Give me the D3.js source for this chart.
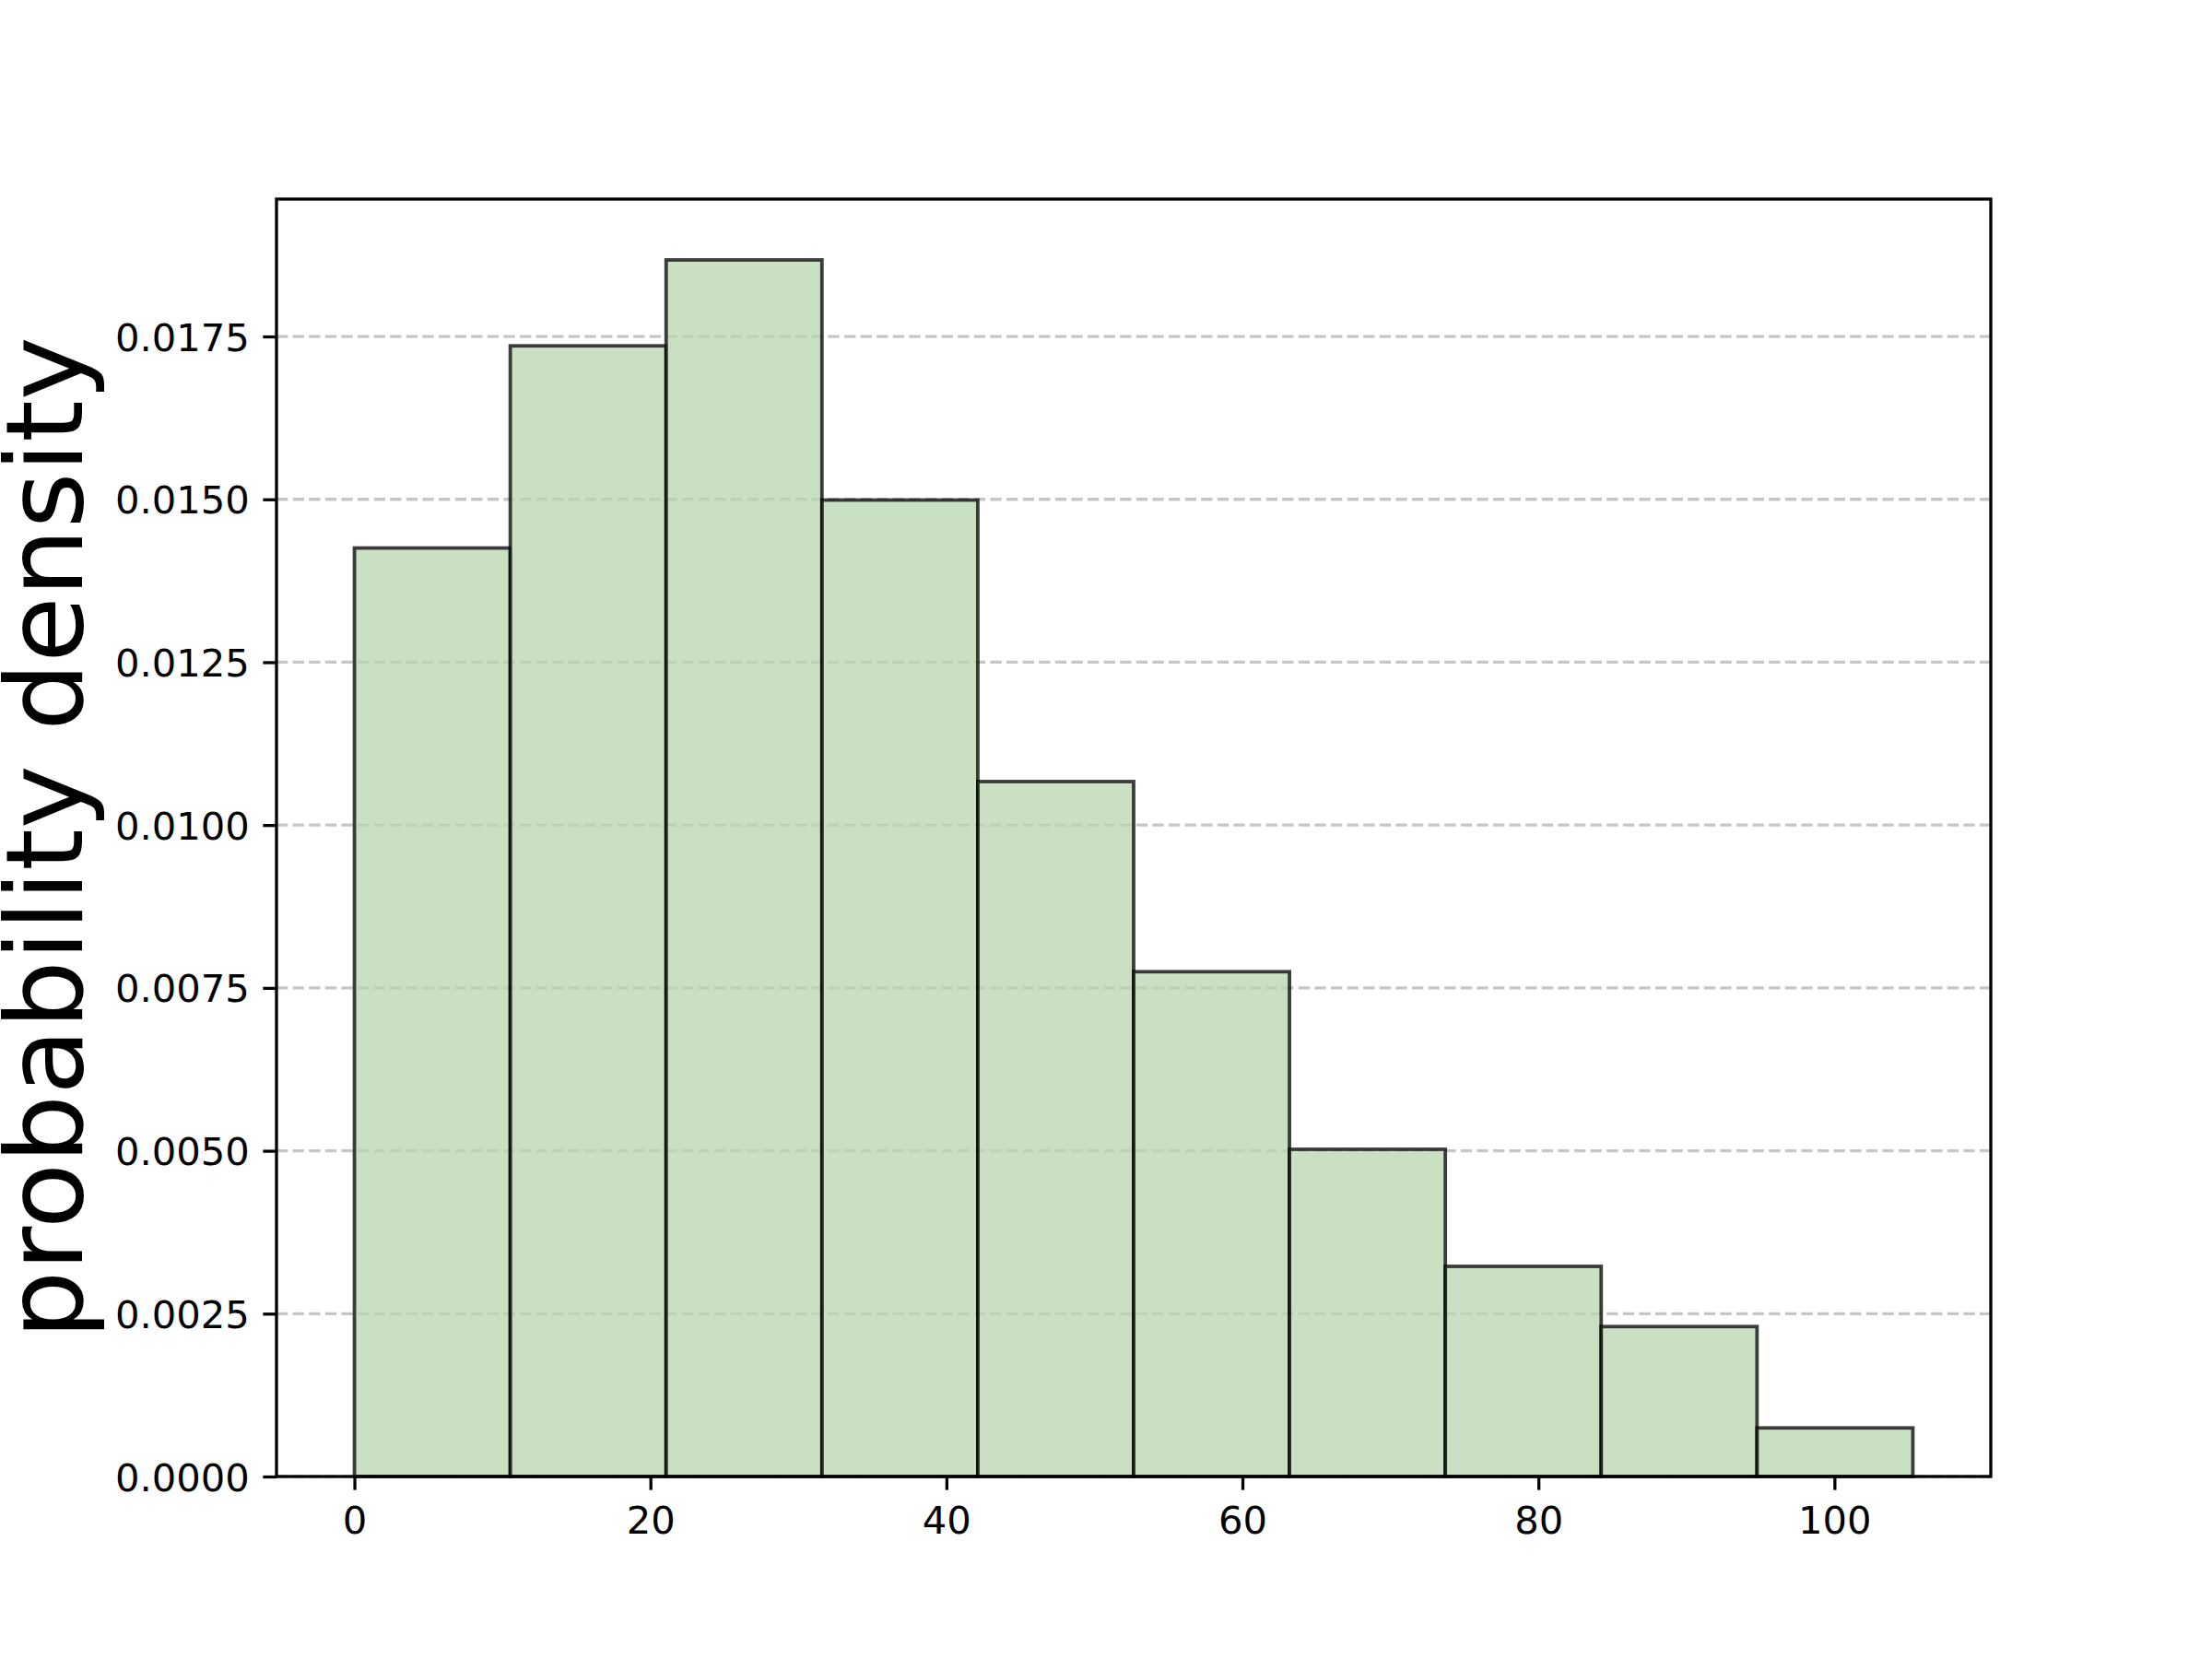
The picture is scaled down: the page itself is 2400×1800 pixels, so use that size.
<!DOCTYPE html>
<html>
<head>
<meta charset="utf-8">
<script src="https://cdn.jsdelivr.net/npm/d3@7"></script>
<style>
  html, body { margin: 0; padding: 0; background: #ffffff; }
  svg { display: block; }
  text { font-family: "DejaVu Sans", sans-serif; fill: #000; }
</style>
</head>
<body>
<script>
// ---- data ----
const binEdges = [0, 10.53, 21.06, 31.59, 42.12, 52.65, 63.18, 73.71, 84.24, 94.77, 105.3];
const densities = [0.014253, 0.017356, 0.018675, 0.014989, 0.010668, 0.007749, 0.005023, 0.003226, 0.002302, 0.000746];
const xTicks = [0, 20, 40, 60, 80, 100];
const yTicks = [0, 0.0025, 0.005, 0.0075, 0.01, 0.0125, 0.015, 0.0175];
const yLabel = "probability density";

// ---- layout ----
const W = 2400, H = 1800;
const plot = { left: 300, right: 2160, top: 216, bottom: 1602 };

const bins = densities.map((d, i) => ({ x0: binEdges[i], x1: binEdges[i + 1], d }));

const xMin = binEdges[0], xMax = binEdges[binEdges.length - 1];
const xPad = (xMax - xMin) * 0.05;
const x = d3.scaleLinear().domain([xMin - xPad, xMax + xPad]).range([plot.left, plot.right]);
const y = d3.scaleLinear().domain([0, d3.max(densities) * 1.05]).range([plot.bottom, plot.top]);

const svg = d3.select("body").append("svg").attr("width", W).attr("height", H);
svg.append("rect").attr("width", W).attr("height", H).attr("fill", "#ffffff");

// grid (behind bars)
svg.append("g").selectAll("line").data(yTicks).join("line")
  .attr("x1", plot.left).attr("x2", plot.right)
  .attr("y1", d => y(d)).attr("y2", d => y(d))
  .attr("stroke", "#c6c6c6").attr("stroke-width", 3.3)
  .attr("stroke-dasharray", "12.3,5.3");

// bars
svg.append("g").selectAll("rect").data(bins).join("rect")
  .attr("x", d => x(d.x0))
  .attr("width", d => x(d.x1) - x(d.x0))
  .attr("y", d => y(d.d))
  .attr("height", d => y(0) - y(d.d))
  .attr("fill", "#b8d6ad").attr("fill-opacity", 0.75)
  .attr("stroke", "#000").attr("stroke-opacity", 0.75)
  .attr("stroke-width", 3.8);

// axes
const fontSize = 41.7;
const tickLen = 14.6;

const xAxis = d3.axisBottom(x).tickValues(xTicks).tickFormat(d3.format("d"))
  .tickSize(tickLen).tickPadding(tickLen);
const gx = svg.append("g").attr("transform", `translate(0,${plot.bottom})`).call(xAxis);
gx.select(".domain").remove();
gx.selectAll(".tick line").attr("stroke", "#000").attr("stroke-width", 3.3);
gx.selectAll(".tick text").attr("font-size", fontSize).attr("font-family", "DejaVu Sans")
  .attr("dy", null).attr("y", 62).attr("fill", "#000");

const yAxis = d3.axisLeft(y).tickValues(yTicks).tickFormat(d3.format(".4f"))
  .tickSize(tickLen).tickPadding(tickLen);
const gy = svg.append("g").attr("transform", `translate(${plot.left},0)`).call(yAxis);
gy.select(".domain").remove();
gy.selectAll(".tick line").attr("stroke", "#000").attr("stroke-width", 3.3);
gy.selectAll(".tick text").attr("font-size", fontSize).attr("font-family", "DejaVu Sans")
  .attr("dy", "0.36em").attr("fill", "#000");

// frame (spines)
svg.append("rect")
  .attr("x", plot.left).attr("y", plot.top)
  .attr("width", plot.right - plot.left).attr("height", plot.bottom - plot.top)
  .attr("fill", "none").attr("stroke", "#000").attr("stroke-width", 3.3);

// y label
svg.append("text")
  .attr("transform", `translate(89,${(plot.top + plot.bottom) / 2}) rotate(-90)`)
  .attr("text-anchor", "middle")
  .attr("font-size", 116.7)
  .attr("font-family", "DejaVu Sans")
  .text(yLabel);
</script>
</body>
</html>
